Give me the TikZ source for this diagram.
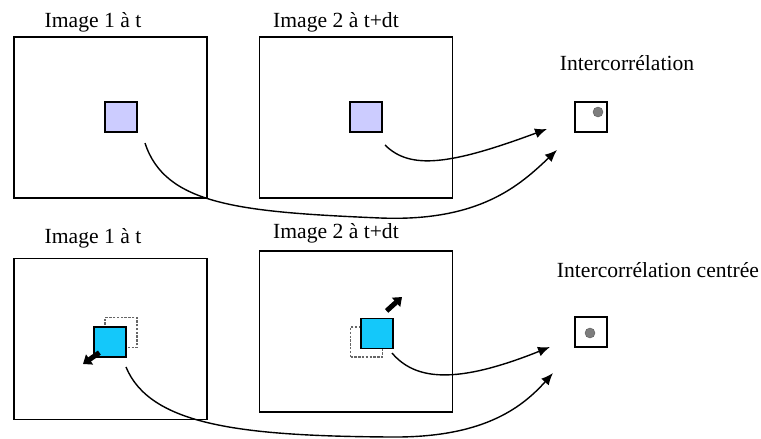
\documentclass[tikz,border=0pt]{standalone}
\usepackage{fontspec}
\setmainfont{Liberation Serif}
\newfontfamily\capfont{Liberation Serif}
\usetikzlibrary{positioning,arrows.meta}
\definecolor{lavpatch}{RGB}{204,204,255}
\definecolor{cyanpatch}{RGB}{20,200,250}
\definecolor{peakgray}{RGB}{125,125,125}

\begin{document}
\begin{tikzpicture}[
            x=0.5pt, y=-0.5pt,
            frame/.style={draw, line width=0.65pt, minimum width=96.5pt, minimum height=80.5pt, inner sep=0pt},
            patch/.style={draw, line width=0.6pt, minimum width=16pt, minimum height=15pt, inner sep=0pt},
            ghost/.style={draw, black!60, dash pattern=on 1.2pt off 0.7pt, line width=0.6pt, minimum width=16pt, minimum height=15pt, inner sep=0pt},
            corrbox/.style={draw, line width=0.6pt, minimum width=16pt, minimum height=15pt, inner sep=0pt},
            peak/.style={circle, fill=peakgray, draw=peakgray!70!black, line width=0.2pt, minimum size=5pt, inner sep=0pt},
            flow/.style={-{Latex[length=6pt, width=5pt]}, line width=0.7pt},
            movearrow/.style={-{Triangle[length=4pt, width=6pt]}, line width=2.5pt},
            caption/.style={font=\capfont\fontsize{10.8}{13}\selectfont}
        ]
        \useasboundingbox (0,0) rectangle (761,439);

        % --- LIGNE DU HAUT : intercorrelation simple ---
        \node[caption] (capA) at (93,22) {Image 1 à t};
        \node[caption] (capB) at (336,22) {Image 2 à t+dt};
        \node[caption] (capAB) at (627,63) {Intercorrélation};

        \node[frame] (imgA) at (110.5,117.5) {};
        \node[frame] (imgB) at (356,117.5) {};
        \node[patch, fill=lavpatch] (patchA) at (121,117) {};
        \node[patch, fill=lavpatch] (patchB) at (366,117) {};

        \node[corrbox] (corrAB) at (591,117) {};
        \node[peak] (peakAB) at (598,112) {};

        \coordinate (startA) at (145,143);
        \coordinate (startB) at (385,145);
        \coordinate (endA) at (557,150);
        \coordinate (endB) at (547,129);

        \draw[flow] (startA) .. controls (165,205) and (240,212) .. (380,218)
                             .. controls (480,222) and (520,185) .. (endA);
        \draw[flow] (startB) .. controls (410,170) and (450,165) .. (endB);

        % --- LIGNE DU BAS : intercorrelation centree ---
        \node[caption] (capC) at (93,238) {Image 1 à t};
        \node[caption] (capD) at (336,233) {Image 2 à t+dt};
        \node[caption] (capCD) at (658,270) {Intercorrélation centrée};

        \node[frame] (imgC) at (110.5,339) {};
        \node[frame] (imgD) at (356,331.5) {};

        % fenetres decalees (pointilles) puis fenetres centrees
        \node[ghost] (ghostC) at (121,332.5) {};
        \node[ghost] (ghostD) at (366.5,342) {};
        \node[patch, fill=cyanpatch] (patchC) at (110,342) {};
        \node[patch, fill=cyanpatch] (patchD) at (377,333.5) {};

        \coordinate (tipC) at (83,364);
        \coordinate (tipD) at (402,297);
        \draw[movearrow] ([shift={(6,-5)}]patchC.south west) -- (tipC);
        \draw[movearrow] ([shift={(-7,-7)}]patchD.north east) -- (tipD);

        \node[corrbox] (corrCD) at (591,332) {};
        \node[peak] (peakCD) at (590,333) {};

        \coordinate (startC) at (126,367);
        \coordinate (startD) at (392,353);
        \coordinate (endC) at (553,373);
        \coordinate (endD) at (550,347);

        \draw[flow] (startC) .. controls (150,425) and (240,436) .. (390,437)
                             .. controls (480,438) and (520,410) .. (endC);
        \draw[flow] (startD) .. controls (415,380) and (455,385) .. (endD);

    \end{tikzpicture}
\end{document}
